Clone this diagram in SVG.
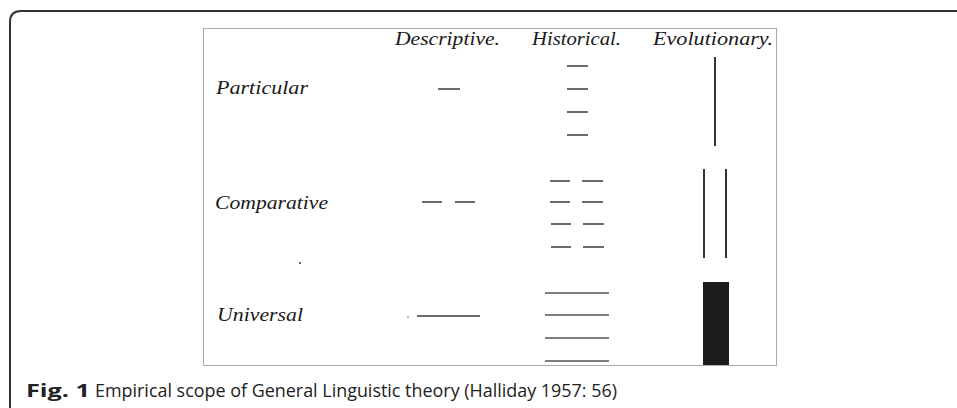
<svg xmlns="http://www.w3.org/2000/svg" width="957" height="408" viewBox="0 0 957 408">
<style>
.hd{font-family:"Liberation Serif","DejaVu Serif",serif;font-style:italic;font-size:18px;fill:#1a1a1a}
.rl{font-family:"Liberation Serif","DejaVu Serif",serif;font-style:italic;font-size:18px;fill:#1a1a1a}
.d{stroke:#3a3a3a;stroke-width:1.5;fill:none}
.u{stroke:#555;stroke-width:1.3;fill:none}
.v{stroke:#333;stroke-width:2;fill:none}
.cap{font-family:"Open Sans","Noto Sans","Liberation Sans",sans-serif;font-size:18px;fill:#222}
</style>
<rect width="957" height="408" fill="#fff"/>
<g id="frame">
<path d="M10,408 V22 Q10,11 21,11 H957" fill="none" stroke="#333" stroke-width="2"/>
</g>
<g id="figure-box">
<rect x="203.5" y="28.5" width="573" height="337" fill="#fff" stroke="#aaa" stroke-width="1"/>
</g>
<g id="headers">
<text class="hd" x="395" y="45" textLength="105" lengthAdjust="spacingAndGlyphs">Descriptive.</text>
<text class="hd" x="532" y="45" textLength="89" lengthAdjust="spacingAndGlyphs">Historical.</text>
<text class="hd" x="653" y="45" textLength="120" lengthAdjust="spacingAndGlyphs">Evolutionary.</text>
</g>
<g id="row-particular">
<text class="rl" x="216" y="94" textLength="92" lengthAdjust="spacingAndGlyphs">Particular</text>
</g>
<g id="row-comparative">
<text class="rl" x="215" y="209" textLength="113" lengthAdjust="spacingAndGlyphs">Comparative</text>
</g>
<g id="row-universal">
<text class="rl" x="217" y="321" textLength="86" lengthAdjust="spacingAndGlyphs">Universal</text>
</g>
<g id="marks">
<!-- Particular -->
<line class="d" x1="438" y1="89" x2="460" y2="89"/>
<line class="d" x1="567" y1="66" x2="588" y2="66"/>
<line class="d" x1="567" y1="89" x2="588" y2="89"/>
<line class="d" x1="567" y1="112" x2="588" y2="112"/>
<line class="d" x1="567" y1="135" x2="588" y2="135"/>
<line class="v" x1="715" y1="57" x2="715" y2="146"/>
<!-- Comparative -->
<line class="d" x1="422" y1="202" x2="442" y2="202"/>
<line class="d" x1="455" y1="202" x2="475" y2="202"/>
<line class="d" x1="550" y1="181" x2="570" y2="181"/>
<line class="d" x1="582" y1="181" x2="603" y2="181"/>
<line class="d" x1="550" y1="202" x2="570" y2="202"/>
<line class="d" x1="582" y1="202" x2="603" y2="202"/>
<line class="d" x1="551" y1="224" x2="571" y2="224"/>
<line class="d" x1="583" y1="224" x2="604" y2="224"/>
<line class="d" x1="551" y1="247" x2="571" y2="247"/>
<line class="d" x1="583" y1="247" x2="604" y2="247"/>
<line class="v" x1="704" y1="169" x2="704" y2="258"/>
<line class="v" x1="726" y1="169" x2="726" y2="258"/>
<!-- Universal -->
<line class="d" x1="417" y1="316" x2="480" y2="316"/>
<line class="u" x1="545" y1="293" x2="609" y2="293"/>
<line class="u" x1="545" y1="315" x2="609" y2="315"/>
<line class="u" x1="545" y1="338" x2="609" y2="338"/>
<line class="u" x1="545" y1="361" x2="609" y2="361"/>
<rect x="703" y="282" width="26" height="83" fill="#1c1c1c"/>
<circle cx="300" cy="263" r="1" fill="#333"/>
<circle cx="408" cy="317" r="0.8" fill="#555"/>
</g>
<g id="caption">
<text class="cap" x="26" y="397" font-weight="bold" textLength="64" lengthAdjust="spacingAndGlyphs">Fig. 1</text>
<text class="cap" x="95" y="397" textLength="522" lengthAdjust="spacingAndGlyphs">Empirical scope of General Linguistic theory (Halliday 1957: 56)</text>
</g>
</svg>
